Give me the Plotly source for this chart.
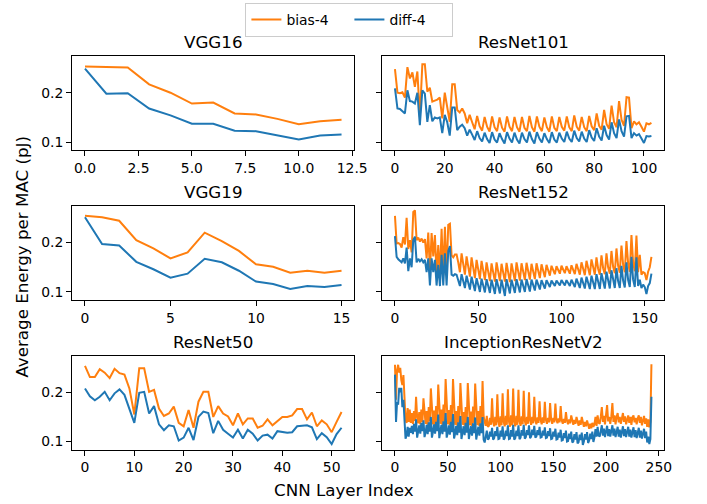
import plotly.graph_objects as go

# ---------------- data ----------------
vgg16_bias = [0.253, 0.252, 0.251, 0.217, 0.200, 0.178, 0.180, 0.158, 0.156, 0.147, 0.136, 0.142, 0.145]
vgg16_diff = [0.249, 0.198, 0.199, 0.168, 0.154, 0.137, 0.137, 0.123, 0.122, 0.113, 0.105, 0.113, 0.115]

vgg19_bias = [0.254, 0.251, 0.244, 0.205, 0.188, 0.168, 0.180, 0.220, 0.203, 0.183, 0.156, 0.151,
              0.139, 0.143, 0.139, 0.143]
vgg19_diff = [0.251, 0.197, 0.194, 0.161, 0.146, 0.129, 0.137, 0.167, 0.160, 0.143, 0.121, 0.116,
              0.106, 0.112, 0.110, 0.114]

resnet50_bias = [0.254, 0.231, 0.231, 0.247, 0.240, 0.229, 0.248, 0.239, 0.236, 0.208,
                 0.155, 0.249, 0.249, 0.201, 0.205, 0.167, 0.152, 0.157, 0.171, 0.138,
                 0.131, 0.164, 0.128, 0.181, 0.201, 0.201, 0.150, 0.172, 0.157, 0.151,
                 0.133, 0.157, 0.135, 0.147, 0.147, 0.128, 0.132, 0.145, 0.133, 0.142,
                 0.150, 0.150, 0.153, 0.166, 0.166, 0.145, 0.159, 0.131, 0.143, 0.135,
                 0.119, 0.140, 0.160]
resnet50_diff = [0.208, 0.192, 0.184, 0.191, 0.201, 0.184, 0.198, 0.206, 0.195, 0.165,
                 0.138, 0.199, 0.201, 0.157, 0.172, 0.135, 0.123, 0.133, 0.131, 0.102,
                 0.108, 0.128, 0.103, 0.150, 0.161, 0.158, 0.117, 0.142, 0.124, 0.116,
                 0.108, 0.124, 0.106, 0.124, 0.116, 0.102, 0.112, 0.114, 0.106, 0.121,
                 0.119, 0.118, 0.119, 0.131, 0.132, 0.133, 0.129, 0.105, 0.117, 0.109,
                 0.095, 0.115, 0.128]

resnet101_bias = [0.248, 0.200, 0.199, 0.201, 0.190, 0.252, 0.229, 0.241, 0.212, 0.243,
                  0.151, 0.258, 0.258, 0.202, 0.210, 0.182, 0.184, 0.186, 0.190, 0.148,
                  0.200, 0.172, 0.141, 0.217, 0.217, 0.165, 0.160, 0.168, 0.158, 0.138,
                  0.155, 0.140, 0.126, 0.153, 0.132, 0.123, 0.151, 0.131, 0.121, 0.152,
                  0.130, 0.122, 0.150, 0.129, 0.121, 0.152, 0.131, 0.122, 0.151, 0.130,
                  0.121, 0.151, 0.129, 0.122, 0.153, 0.130, 0.121, 0.152, 0.131, 0.122,
                  0.150, 0.130, 0.121, 0.152, 0.129, 0.122, 0.151, 0.131, 0.123, 0.152,
                  0.130, 0.122, 0.154, 0.131, 0.123, 0.151, 0.130, 0.122, 0.153, 0.132,
                  0.124, 0.158, 0.133, 0.125, 0.165, 0.136, 0.127, 0.174, 0.140, 0.130,
                  0.183, 0.145, 0.133, 0.191, 0.190, 0.128, 0.142, 0.136, 0.140, 0.131,
                  0.121, 0.138, 0.136, 0.139]
resnet101_diff = [0.209, 0.168, 0.167, 0.163, 0.158, 0.205, 0.183, 0.182, 0.178, 0.200,
                  0.134, 0.205, 0.198, 0.141, 0.175, 0.142, 0.150, 0.148, 0.150, 0.118,
                  0.155, 0.140, 0.113, 0.170, 0.170, 0.124, 0.131, 0.135, 0.128, 0.113,
                  0.125, 0.115, 0.104, 0.122, 0.108, 0.101, 0.119, 0.106, 0.098, 0.120,
                  0.105, 0.099, 0.118, 0.106, 0.097, 0.120, 0.107, 0.099, 0.119, 0.105,
                  0.097, 0.119, 0.106, 0.099, 0.121, 0.106, 0.097, 0.120, 0.107, 0.099,
                  0.118, 0.106, 0.098, 0.120, 0.105, 0.099, 0.119, 0.107, 0.100, 0.121,
                  0.107, 0.100, 0.123, 0.108, 0.101, 0.121, 0.107, 0.100, 0.124, 0.109,
                  0.102, 0.128, 0.111, 0.103, 0.133, 0.114, 0.105, 0.140, 0.118, 0.108,
                  0.146, 0.122, 0.111, 0.152, 0.153, 0.108, 0.118, 0.113, 0.116, 0.107,
                  0.098, 0.112, 0.111, 0.112]

resnet152_bias = [0.254, 0.198, 0.199, 0.197, 0.190, 0.211, 0.196, 0.250, 0.187, 0.205,
                  0.180, 0.262, 0.265, 0.205, 0.210, 0.202, 0.208, 0.200, 0.207, 0.168,
                  0.220, 0.140, 0.219, 0.172, 0.215, 0.134, 0.195, 0.134, 0.228, 0.134,
                  0.232, 0.134, 0.236, 0.238, 0.174, 0.170, 0.176,
                  0.176, 0.160, 0.140, 0.178, 0.155, 0.135, 0.172, 0.150, 0.131,
                  0.170, 0.148, 0.128, 0.165, 0.145, 0.126, 0.163, 0.142, 0.124,
                  0.160, 0.140, 0.122, 0.158, 0.139, 0.121, 0.160, 0.138, 0.122,
                  0.157, 0.137, 0.121, 0.159, 0.138, 0.120, 0.158, 0.139, 0.122,
                  0.160, 0.140, 0.123, 0.158, 0.139, 0.124, 0.159, 0.141, 0.125,
                  0.157, 0.140, 0.126, 0.158, 0.142, 0.128, 0.156, 0.142, 0.130,
                  0.155, 0.143, 0.133, 0.153, 0.144, 0.136, 0.152, 0.143, 0.137,
                  0.153, 0.144, 0.138, 0.152, 0.145, 0.137, 0.154, 0.144, 0.136,
                  0.157, 0.143, 0.135, 0.160, 0.144, 0.134, 0.163, 0.145, 0.134,
                  0.166, 0.146, 0.135, 0.170, 0.147, 0.135, 0.174, 0.148, 0.136,
                  0.178, 0.150, 0.137, 0.183, 0.151, 0.138, 0.188, 0.153, 0.139,
                  0.194, 0.155, 0.140, 0.203, 0.158, 0.141, 0.215, 0.160, 0.142,
                  0.214, 0.140, 0.175, 0.135, 0.140, 0.138, 0.124, 0.141, 0.150, 0.171]
resnet152_diff = [0.213, 0.171, 0.166, 0.163, 0.160, 0.168, 0.158, 0.190, 0.142, 0.168,
                  0.150, 0.205, 0.212, 0.160, 0.167, 0.162, 0.166, 0.160, 0.165, 0.140,
                  0.168, 0.113, 0.168, 0.140, 0.165, 0.113, 0.155, 0.112, 0.175, 0.113,
                  0.178, 0.113, 0.183, 0.193, 0.135, 0.133, 0.136,
                  0.135, 0.125, 0.112, 0.136, 0.122, 0.108, 0.133, 0.118, 0.105,
                  0.131, 0.116, 0.102, 0.128, 0.114, 0.100, 0.127, 0.112, 0.099,
                  0.126, 0.111, 0.098, 0.125, 0.110, 0.096, 0.126, 0.110, 0.097,
                  0.125, 0.109, 0.092, 0.126, 0.110, 0.097, 0.125, 0.111, 0.098,
                  0.126, 0.112, 0.099, 0.125, 0.112, 0.100, 0.126, 0.113, 0.101,
                  0.125, 0.114, 0.103, 0.125, 0.115, 0.105, 0.124, 0.116, 0.107,
                  0.124, 0.117, 0.110, 0.123, 0.118, 0.112, 0.123, 0.118, 0.113,
                  0.124, 0.119, 0.113, 0.124, 0.118, 0.112, 0.125, 0.117, 0.110,
                  0.127, 0.116, 0.108, 0.129, 0.116, 0.107, 0.131, 0.117, 0.106,
                  0.133, 0.117, 0.106, 0.136, 0.118, 0.106, 0.138, 0.119, 0.107,
                  0.141, 0.120, 0.107, 0.144, 0.121, 0.108, 0.148, 0.122, 0.108,
                  0.153, 0.123, 0.109, 0.160, 0.124, 0.110, 0.171, 0.125, 0.110,
                  0.170, 0.112, 0.125, 0.108, 0.115, 0.110, 0.096, 0.112, 0.118, 0.137]

inception_bias = [0.256, 0.185, 0.245, 0.256, 0.240, 0.250, 0.225, 0.215, 0.235, 0.170, 0.145, 0.138,
                  0.168, 0.140, 0.165,
                  0.138, 0.158, 0.136, 0.162, 0.142, 0.191, 0.150,
                  0.137, 0.160, 0.135, 0.165, 0.140, 0.188, 0.152,
                  0.136, 0.162, 0.134, 0.170, 0.141, 0.208, 0.155,
                  0.135, 0.163, 0.133, 0.172, 0.140, 0.216, 0.157,
                  0.136, 0.165, 0.134, 0.175, 0.141, 0.227, 0.158,
                  0.135, 0.164, 0.133, 0.174, 0.140, 0.227, 0.156,
                  0.134, 0.162, 0.132, 0.172, 0.139, 0.219, 0.155,
                  0.134, 0.160, 0.132, 0.170, 0.138, 0.219, 0.154,
                  0.133, 0.161, 0.131, 0.171, 0.138, 0.218, 0.153,
                  0.133, 0.162, 0.131, 0.172, 0.137, 0.223, 0.152,
                  0.140, 0.132, 0.152, 0.130,
                  0.132, 0.148, 0.134, 0.188, 0.140,
                  0.131, 0.150, 0.133, 0.196, 0.141,
                  0.130, 0.151, 0.133, 0.198, 0.140,
                  0.131, 0.152, 0.134, 0.206, 0.141,
                  0.130, 0.153, 0.133, 0.208, 0.140,
                  0.131, 0.152, 0.134, 0.205, 0.141,
                  0.132, 0.151, 0.135, 0.203, 0.142,
                  0.133, 0.150, 0.136, 0.200, 0.143,
                  0.134, 0.150, 0.137, 0.191, 0.143,
                  0.135, 0.149, 0.138, 0.182, 0.144,
                  0.135, 0.149, 0.138, 0.181, 0.144,
                  0.136, 0.148, 0.139, 0.178, 0.144,
                  0.136, 0.148, 0.139, 0.177, 0.144,
                  0.137, 0.147, 0.139, 0.172, 0.143,
                  0.136, 0.146, 0.138, 0.160, 0.142,
                  0.135, 0.145, 0.137, 0.153, 0.141,
                  0.134, 0.144, 0.136, 0.150, 0.140,
                  0.132, 0.143, 0.134, 0.150, 0.138,
                  0.130, 0.140, 0.131, 0.143, 0.134,
                  0.126, 0.136, 0.127, 0.138, 0.130,
                  0.135, 0.150, 0.132, 0.153, 0.138,
                  0.136, 0.150, 0.170, 0.140, 0.152,
                  0.135, 0.152, 0.174, 0.141, 0.150,
                  0.136, 0.151, 0.178, 0.140, 0.153,
                  0.135, 0.150, 0.158, 0.139, 0.150,
                  0.136, 0.149, 0.158, 0.140, 0.151,
                  0.135, 0.148, 0.153, 0.138, 0.150,
                  0.134, 0.149, 0.153, 0.139, 0.148,
                  0.135, 0.147, 0.153, 0.138, 0.150,
                  0.133, 0.146, 0.152, 0.136, 0.147,
                  0.130, 0.145, 0.129, 0.140,
                  0.257]
inception_diff = [0.236, 0.140, 0.180, 0.175, 0.209, 0.200, 0.209, 0.170, 0.185, 0.150, 0.106, 0.112,
                  0.130, 0.110, 0.128,
                  0.118, 0.132, 0.115, 0.136, 0.120, 0.145, 0.108,
                  0.119, 0.133, 0.116, 0.138, 0.121, 0.143, 0.109,
                  0.118, 0.134, 0.115, 0.139, 0.120, 0.150, 0.108,
                  0.119, 0.135, 0.116, 0.140, 0.121, 0.155, 0.107,
                  0.118, 0.134, 0.115, 0.141, 0.120, 0.158, 0.108,
                  0.117, 0.133, 0.114, 0.140, 0.119, 0.156, 0.106,
                  0.116, 0.132, 0.113, 0.139, 0.118, 0.152, 0.105,
                  0.116, 0.131, 0.113, 0.138, 0.118, 0.150, 0.105,
                  0.115, 0.131, 0.112, 0.137, 0.117, 0.149, 0.104,
                  0.115, 0.130, 0.112, 0.137, 0.117, 0.150, 0.104,
                  0.098, 0.110, 0.122, 0.104,
                  0.106, 0.120, 0.110, 0.128, 0.104,
                  0.107, 0.121, 0.111, 0.130, 0.105,
                  0.106, 0.122, 0.110, 0.131, 0.104,
                  0.107, 0.122, 0.111, 0.133, 0.105,
                  0.106, 0.123, 0.110, 0.134, 0.104,
                  0.107, 0.122, 0.111, 0.133, 0.105,
                  0.108, 0.123, 0.112, 0.134, 0.106,
                  0.109, 0.123, 0.113, 0.133, 0.107,
                  0.110, 0.124, 0.113, 0.132, 0.108,
                  0.110, 0.123, 0.113, 0.130, 0.108,
                  0.109, 0.122, 0.112, 0.129, 0.107,
                  0.108, 0.121, 0.111, 0.127, 0.105,
                  0.106, 0.120, 0.110, 0.126, 0.104,
                  0.105, 0.118, 0.108, 0.124, 0.102,
                  0.103, 0.117, 0.107, 0.122, 0.100,
                  0.101, 0.116, 0.105, 0.120, 0.098,
                  0.100, 0.115, 0.104, 0.119, 0.096,
                  0.099, 0.114, 0.103, 0.118, 0.093,
                  0.100, 0.115, 0.104, 0.119, 0.097,
                  0.102, 0.116, 0.105, 0.120, 0.099,
                  0.108, 0.125, 0.110, 0.130, 0.112,
                  0.110, 0.124, 0.133, 0.112, 0.126,
                  0.109, 0.123, 0.132, 0.111, 0.125,
                  0.110, 0.124, 0.133, 0.112, 0.126,
                  0.109, 0.122, 0.130, 0.110, 0.124,
                  0.108, 0.123, 0.131, 0.111, 0.125,
                  0.109, 0.122, 0.130, 0.110, 0.124,
                  0.108, 0.121, 0.129, 0.109, 0.123,
                  0.107, 0.120, 0.128, 0.108, 0.122,
                  0.106, 0.119, 0.126, 0.107, 0.120,
                  0.098, 0.110, 0.095, 0.105,
                  0.191]

titles = ["VGG16", "ResNet101", "VGG19", "ResNet152", "ResNet50", "InceptionResNetV2"]
x_ticks = [[0, 2.5, 5, 7.5, 10, 12.5], [0, 20, 40, 60, 80, 100], [0, 5, 10, 15],
           [0, 50, 100, 150], [0, 10, 20, 30, 40, 50], [0, 50, 100, 150, 200, 250]]
x_ticktext = [["0.0", "2.5", "5.0", "7.5", "10.0", "12.5"], ["0", "20", "40", "60", "80", "100"],
              ["0", "5", "10", "15"], ["0", "50", "100", "150"], ["0", "10", "20", "30", "40", "50"],
              ["0", "50", "100", "150", "200", "250"]]
y_ticks = [0.1, 0.2]
y_ticktext = ["0.1", "0.2"]
series_names = ["bias-4", "diff-4"]

bias_series = [vgg16_bias, resnet101_bias, vgg19_bias, resnet152_bias, resnet50_bias, inception_bias]
diff_series = [vgg16_diff, resnet101_diff, vgg19_diff, resnet152_diff, resnet50_diff, inception_diff]

# ---------------- layout ----------------
W, H = 707, 504
ORANGE = "#ff7f0e"
BLUE = "#1f77b4"
FONT = "DejaVu Sans"
col_px = [(73.5, 361.0), (389.3, 676.7)]
row_px = [(56.0, 150.0), (205.7, 300.0), (355.7, 449.5)]
Y_RANGE = [0.0838, 0.2745]

fig = go.Figure()
layout = {}
annotations = []
for i in range(6):
    r, c = divmod(i, 2)
    bias = bias_series[i]
    diff = diff_series[i]
    n = len(bias)
    sfx = "" if i == 0 else str(i + 1)
    fig.add_trace(go.Scatter(x=list(range(n)), y=bias, mode="lines", name=series_names[0],
                             line=dict(color=ORANGE, width=2), showlegend=(i == 0),
                             xaxis="x" + sfx, yaxis="y" + sfx))
    fig.add_trace(go.Scatter(x=list(range(len(diff))), y=diff, mode="lines", name=series_names[1],
                             line=dict(color=BLUE, width=2), showlegend=(i == 0),
                             xaxis="x" + sfx, yaxis="y" + sfx))
    x0, x1 = col_px[c]
    y0, y1 = row_px[r]
    common = dict(ticks="outside", ticklen=5, tickwidth=1.1, tickcolor="black",
                  showline=True, mirror=True, linecolor="black", linewidth=1.1,
                  showgrid=False, zeroline=False,
                  tickfont=dict(family=FONT, size=13.9, color="black"))
    layout["xaxis" + sfx] = dict(domain=[x0 / W, x1 / W], anchor="y" + sfx,
                                 range=[-0.05 * (n - 1), 1.05 * (n - 1)],
                                 tickvals=x_ticks[i], ticktext=x_ticktext[i], **common)
    layout["yaxis" + sfx] = dict(domain=[1 - y1 / H, 1 - y0 / H], anchor="x" + sfx,
                                 range=Y_RANGE, tickvals=y_ticks, ticktext=y_ticktext,
                                 showticklabels=(c == 0), **common)
    annotations.append(dict(text=titles[i], x=(x0 + x1) / 2 / W, y=1 - y0 / H,
                            xref="paper", yref="paper", xanchor="center", yanchor="middle",
                            yshift=14, showarrow=False,
                            font=dict(family=FONT, size=16.7, color="black")))

annotations.append(dict(text="Average Energy per MAC (pJ)", x=22 / W, y=1 - 257 / H,
                        xref="paper", yref="paper", xanchor="center", yanchor="middle",
                        textangle=-90, showarrow=False,
                        font=dict(family=FONT, size=16.7, color="black")))
annotations.append(dict(text="CNN Layer Index", x=350 / W, y=1 - 490 / H,
                        xref="paper", yref="paper", xanchor="center", yanchor="middle",
                        showarrow=False, font=dict(family=FONT, size=16.7, color="black")))

fig.update_layout(
    width=W, height=H, autosize=False,
    margin=dict(l=0, r=0, t=0, b=0),
    paper_bgcolor="white", plot_bgcolor="white",
    font=dict(family=FONT, size=13.9, color="black"),
    showlegend=True,
    legend=dict(orientation="h", x=250 / W, xanchor="left", y=1 - 3 / H, yanchor="top",
                entrywidth=58, itemwidth=30,
                bordercolor="#cccccc", borderwidth=1, bgcolor="white",
                font=dict(family=FONT, size=13.9, color="black")),
    annotations=annotations,
    **layout,
)

fig.write_html("out.html", config={"displayModeBar": False},
               post_script="document.body.style.margin='0';document.body.style.overflow='hidden';")
